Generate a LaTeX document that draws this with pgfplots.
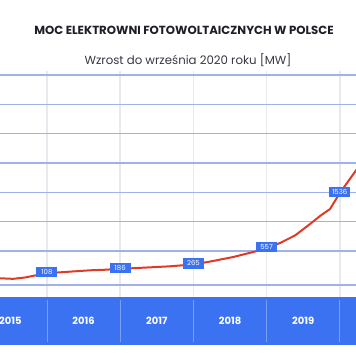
\documentclass[border=0pt]{standalone}
\usepackage{pgfplots}
\pgfplotsset{compat=1.18}
\usepackage{fontspec}
\setmainfont{Poppins}
\definecolor{bandblue}{RGB}{58,114,242}
\definecolor{gridblue}{RGB}{160,178,238}
\definecolor{divblue}{RGB}{120,158,246}
\definecolor{vgray}{RGB}{232,232,238}
\definecolor{linered}{RGB}{222,58,40}
\definecolor{titlec}{RGB}{30,30,40}
\definecolor{subc}{RGB}{55,55,65}
\begin{document}
\begin{tikzpicture}
\begin{axis}[
  scale only axis, width=356bp, height=364bp,
  xmin=2015.358, xmax=2020.221, ymin=-1508, ymax=4972,
  hide axis, clip=true,
]
% vertical light lines
\pgfplotsinvokeforeach{2016,2017,2018,2019,2020}{
  \addplot[vgray, line width=1.5bp, forget plot] coordinates {(#1,3700) (#1,-315)};
}
% horizontal grid lines
\pgfplotsinvokeforeach{-101,504,1026,1548,2070,2592,3114,3636}{
  \addplot[gridblue, line width=1.1bp, forget plot] coordinates {(2015.358,#1) (2020.221,#1)};
}
% band
\addplot[fill=bandblue, draw=none, forget plot] coordinates {(2015.2,-315) (2020.4,-315) (2020.4,-1170) (2015.2,-1170)} -- cycle;
\pgfplotsinvokeforeach{2016,2017,2018,2019,2020}{
  \addplot[divblue, line width=0.8bp, forget plot] coordinates {(#1,-370) (#1,-1121)};
}
% year labels
\addplot[draw=none, mark=none, nodes near coords, point meta=explicit symbolic,
  every node near coord/.style={anchor=center, text=white, font=\bfseries\fontsize{10}{10}\selectfont}]
  table[meta=lab] {
x y lab
2015.5 -737 2015
2016.5 -737 2016
2017.5 -737 2017
2018.5 -737 2018
2019.5 -737 2019
};
% data line
\addplot[linered, line width=2bp, mark=none] coordinates {
(2015.358,18) (2015.536,8) (2015.699,32) (2015.836,68) (2016.0,108)
(2016.246,130) (2016.587,160) (2016.792,170) (2017.0,186)
(2017.339,208) (2017.680,231) (2018.0,265)
(2018.232,317) (2018.546,397) (2018.847,495) (2019.0,557)
(2019.183,646) (2019.388,780) (2019.593,984) (2019.730,1127) (2019.866,1251) (2020.0,1536)
(2020.137,1785) (2020.273,2035)
};
% value labels
\addplot[draw=none, mark=none, nodes near coords, point meta=explicit symbolic,
  every node near coord/.style={anchor=center, yshift=1bp, fill=bandblue, text=white, inner sep=0pt,
    minimum width=21bp, minimum height=10.5bp, font=\fontsize{7}{7}\selectfont}]
  table[meta=lab] {
x y lab
2016.0 108 108
2017.0 186 186
2018.0 265 265
2019.0 557 557
2020.0 1536 1536
};
\node[text=titlec, font=\bfseries\fontsize{11.8}{11.8}\selectfont] at (rel axis cs:0.517,0.9176) {MOC ELEKTROWNI FOTOWOLTAICZNYCH W POLSCE};
\node[text=subc, font=\fontsize{11.8}{11.8}\selectfont] at (rel axis cs:0.528,0.835) {Wzrost do września 2020 roku [MW]};
\end{axis}
\pgfresetboundingbox
\path (current axis.south west) rectangle (current axis.north east);
\end{tikzpicture}
\end{document}
